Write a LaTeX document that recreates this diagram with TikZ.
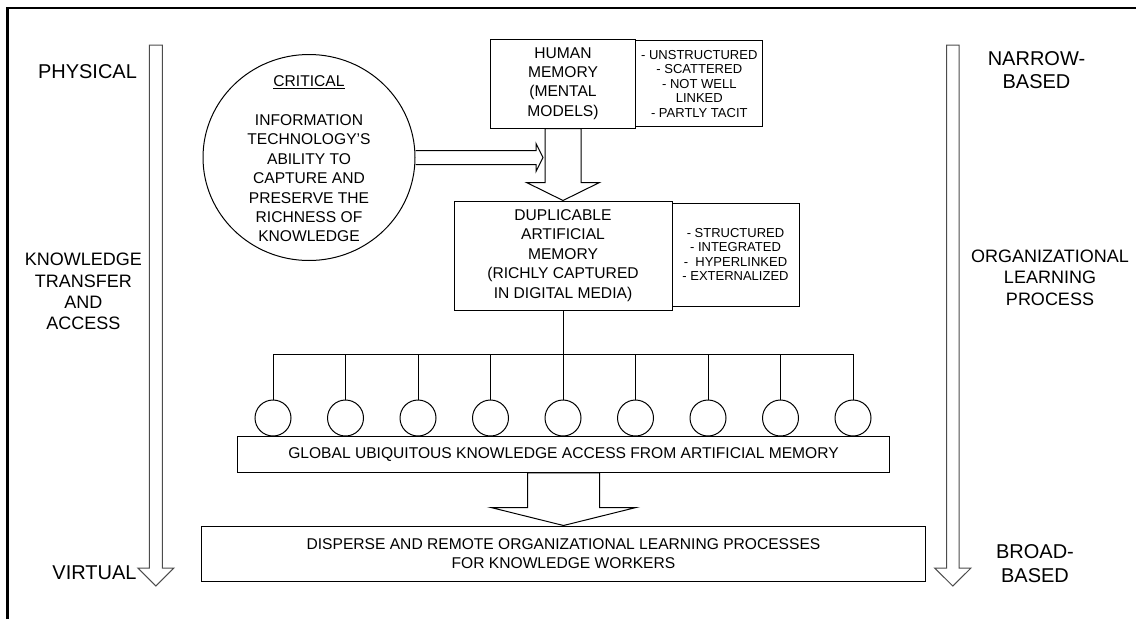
\documentclass[tikz,border=0pt]{standalone}
\usepackage{fontspec}
\setmainfont{Liberation Sans}
\usepackage{tikz}
\usetikzlibrary{calc,shapes.geometric}

\newcommand{\boxtxt}{\fontsize{15.6}{19.4}\selectfont}
\newcommand{\notetxt}{\fontsize{13}{14.5}\selectfont}
\newcommand{\bigtxt}{\fontsize{20}{23.7}\selectfont}
\newcommand{\midtxt}{\fontsize{18}{21.3}\selectfont}
% hollow arrow: start, tip, half shaft, half head, head length
\newcommand{\hollowarrow}[6][boxline]{%
  \draw[#1] ($(#2)+(-#4,0)$) -- ($(#3)+(-#4,-#6)$) -- ($(#3)+(-#5,-#6)$) -- (#3)
    -- ($(#3)+(#5,-#6)$) -- ($(#3)+(#4,-#6)$) -- ($(#2)+(#4,0)$) -- cycle;}

\begin{document}
\begin{tikzpicture}[x=1pt,y=-1pt,
  boxline/.style={line width=1pt},
  axisline/.style={line width=1pt,black!70},
  box/.style={draw,boxline,inner sep=0pt,align=center,font=\boxtxt},
  note/.style={draw,boxline,inner sep=0pt,align=center,font=\notetxt},
  client/.style={draw,boxline,circle,minimum size=36pt,inner sep=0pt},
  big/.style={align=center,font=\bigtxt,inner sep=0pt},
  mid/.style={align=center,font=\midtxt,inner sep=0pt}]
\useasboundingbox (0,0) rectangle (1136,619);
\draw[line width=2.2pt] (7.5,619) -- (7.5,8.3) -- (1136,8.3);

% memories
\node[box,minimum width=145.3pt,minimum height=89pt] (human) at (563,83.5) {HUMAN\\MEMORY\\(MENTAL\\MODELS)};
\node[note,minimum width=126.7pt,minimum height=86pt] (humannote) at (699.3,83.7) {- UNSTRUCTURED\\- SCATTERED\\- NOT WELL\\LINKED\\- PARTLY TACIT};
\node[box,minimum width=218pt,minimum height=109pt] (dup) at (563,255.5) {DUPLICABLE\\ARTIFICIAL\\MEMORY\\(RICHLY CAPTURED\\IN DIGITAL MEDIA)};
\node[note,minimum width=127pt,minimum height=103pt] (dupnote) at (735.5,254.5) {- STRUCTURED\\- INTEGRATED\\-\ \ HYPERLINKED\\- EXTERNALIZED};

% critical factor
\node[draw,boxline,ellipse,minimum width=212pt,minimum height=206pt,inner sep=0pt] (crit) at (309,157.5) {};
\node[align=center,font=\boxtxt,inner sep=0pt] (critical) at (309,159) {\underline{CRITICAL}\\[19.4pt]INFORMATION\\TECHNOLOGY'S\\ABILITY TO\\CAPTURE AND\\PRESERVE THE\\RICHNESS OF\\KNOWLEDGE};
\coordinate (inflow) at (543,157.5);
\draw[boxline] ($(crit.east)+(0,-7)$) -- ($(inflow)+(-7,-7)$) -- ($(inflow)+(-7,-14)$) -- (inflow)
  -- ($(inflow)+(-7,14)$) -- ($(inflow)+(-7,7)$) -- ($(crit.east)+(0,7)$);

% access
\node[box,minimum width=652.7pt,minimum height=36.3pt] (global) at (563.5,454.2) {GLOBAL UBIQUITOUS KNOWLEDGE ACCESS FROM ARTIFICIAL MEMORY};
\node[box,minimum width=724.7pt,minimum height=55pt] (workers) at (563.5,553.5) {DISPERSE AND REMOTE ORGANIZATIONAL LEARNING PROCESSES\\FOR KNOWLEDGE WORKERS};
\foreach \i in {0,...,8}
  \node[client] (c\i) at (273+72.5*\i,418) {};
\coordinate (bus) at (563,354.3);
\draw[boxline] (dup.south) -- (bus);
\draw[boxline] (c0.north|-bus) -- (c8.north|-bus);
\foreach \i in {0,...,8}
  \draw[boxline] (c\i.north|-bus) -- (c\i.north);

\hollowarrow{human.south}{dup.north}{18}{36.5}{18}
\hollowarrow{global.south}{workers.north}{36}{72.5}{18}

% side scales
\coordinate (ltop) at (155.8,45);
\coordinate (ltip) at (155.8,586);
\coordinate (rtop) at (952.8,45);
\coordinate (rtip) at (952.8,586);
\hollowarrow[axisline]{ltop}{ltip}{6.5}{18}{18}
\hollowarrow[axisline]{rtop}{rtip}{6.2}{18.2}{18}

\node[big] (physical) at (87.5,72) {PHYSICAL};
\node[mid] (transfer) at (83.3,291.5) {KNOWLEDGE\\TRANSFER\\AND\\ACCESS};
\node[big] (virtual) at (94.5,573) {VIRTUAL};
\node[big] (narrow) at (1036.5,70) {NARROW-\\BASED};
\node[mid] (learning) at (1050,277.5) {ORGANIZATIONAL\\LEARNING\\PROCESS};
\node[big] (broad) at (1035,563.7) {BROAD-\\BASED};
\end{tikzpicture}
\end{document}
